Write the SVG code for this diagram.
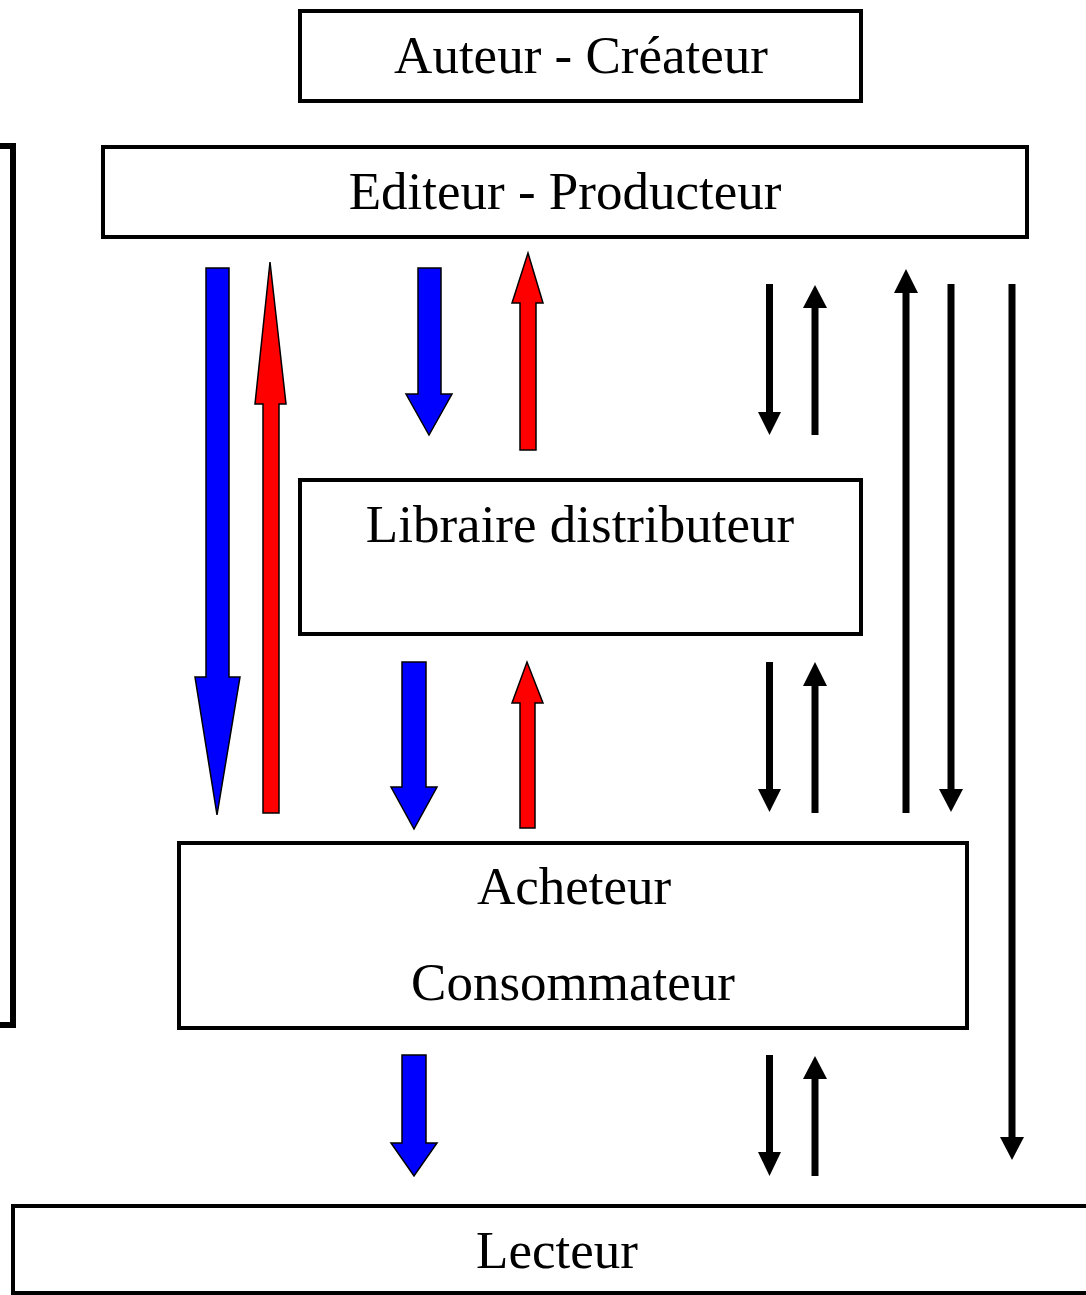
<svg xmlns="http://www.w3.org/2000/svg" width="1086" height="1295" viewBox="0 0 1086 1295">
<style>
.box{fill:#fff;stroke:#000;stroke-width:4}
.lbl{font-family:"Liberation Serif","Times New Roman",serif;font-size:53px;fill:#000;text-anchor:middle}
.blue{fill:#0000ff;stroke:#000;stroke-width:1.5}
.red{fill:#ff0000;stroke:#000;stroke-width:1.5}
.blk{stroke:#000;stroke-width:7;fill:none}
.hd{fill:#000}
</style>
<rect width="1086" height="1295" fill="#fff"/>
<g id="bracket"><polyline points="0,146 13,146 13,1025 0,1025" fill="none" stroke="#000" stroke-width="6"/></g>
<g id="auteur"><rect class="box" x="300" y="11" width="561" height="90"/><text class="lbl" x="581" y="73">Auteur - Créateur</text></g>
<g id="editeur"><rect class="box" x="103" y="147" width="924" height="90"/><text class="lbl" x="565" y="209">Editeur - Producteur</text></g>
<g id="libraire"><rect class="box" x="300" y="480" width="561" height="154"/><text class="lbl" x="580" y="542">Libraire distributeur</text></g>
<g id="acheteur"><rect class="box" x="179" y="843" width="788" height="185"/><text class="lbl" x="574" y="904">Acheteur</text><text class="lbl" x="573" y="1000">Consommateur</text></g>
<g id="lecteur"><rect class="box" x="13" y="1206" width="1085" height="87"/><text class="lbl" x="557" y="1268">Lecteur</text></g>
<g id="connectors">
<polygon class="blue" points="206,268 229,268 229,677 240,677 217,815 195,677 206,677"/>
<polygon class="red" points="263,813 279,813 279,404 286,404 270,262 255,404 263,404"/>
<polygon class="blue" points="418,268 441,268 441,394 452,394 429,435 406,394 418,394"/>
<polygon class="red" points="520,450 536,450 536,303 543,303 528,253 512,303 520,303"/>
<polygon class="blue" points="402,662 426,662 426,787 437,787 414,829 391,787 402,787"/>
<polygon class="red" points="520,828 535,828 535,703 543,703 527,662 512,703 520,703"/>
<polygon class="blue" points="402,1055 426,1055 426,1143 437,1143 414,1176 391,1143 402,1143"/>
<line class="blk" x1="769.5" y1="284" x2="769.5" y2="414"/><polygon class="hd" points="758,412 781,412 769.5,435"/>
<line class="blk" x1="815" y1="435" x2="815" y2="306"/><polygon class="hd" points="803,308 827,308 815,285"/>
<line class="blk" x1="906" y1="813" x2="906" y2="291"/><polygon class="hd" points="894,293 918,293 906,269"/>
<line class="blk" x1="951" y1="284" x2="951" y2="791"/><polygon class="hd" points="939,789 963,789 951,812"/>
<line class="blk" x1="1012" y1="284" x2="1012" y2="1139"/><polygon class="hd" points="1000,1137 1024,1137 1012,1160"/>
<line class="blk" x1="769.5" y1="662" x2="769.5" y2="791"/><polygon class="hd" points="758,789 781,789 769.5,812"/>
<line class="blk" x1="815" y1="813" x2="815" y2="684"/><polygon class="hd" points="803,686 827,686 815,662"/>
<line class="blk" x1="769.5" y1="1055" x2="769.5" y2="1154"/><polygon class="hd" points="758,1152 781,1152 769.5,1176"/>
<line class="blk" x1="815" y1="1176" x2="815" y2="1077"/><polygon class="hd" points="803,1079 827,1079 815,1056"/>
</g>
</svg>
